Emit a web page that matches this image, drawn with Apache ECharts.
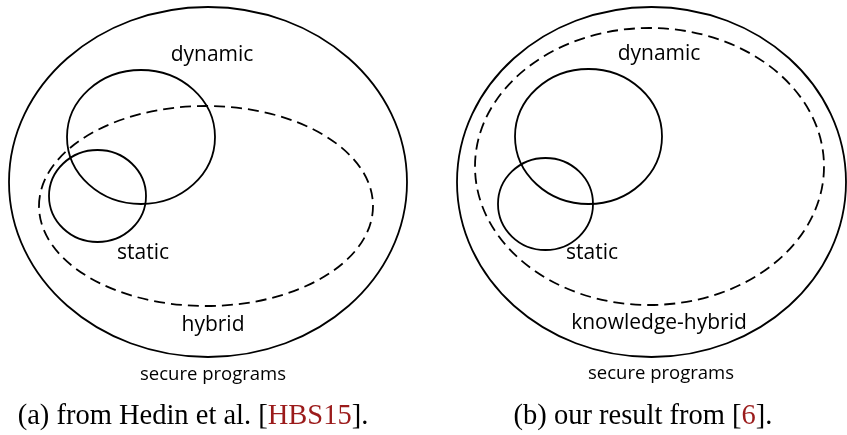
<!DOCTYPE html>
<html>
<head>
<meta charset="utf-8">
<script src="https://cdn.jsdelivr.net/npm/echarts@6/dist/echarts.min.js"></script>
<style>
  html, body { margin: 0; padding: 0; background: #fff; }
  #chart { width: 847px; height: 435px; }
</style>
</head>
<body>
<div id="chart"></div>
<script>
// ellipses: centre x, centre y, radius x, radius y (in picture units), dashed?
var ellipseCx = [208, 141, 97.5, 206, 651.5, 588.5, 545.5, 649.5];
var ellipseCy = [182, 137, 196, 206, 182, 136.5, 204, 166.5];
var ellipseRx = [199, 74, 48.5, 167, 194.5, 73.5, 47.5, 174.5];
var ellipseRy = [175, 67, 46, 100, 175, 67.5, 46, 138.5];
var ellipseDashed = [false, false, false, true, false, false, false, true];

// set labels
var labelText = ['dynamic', 'static', 'hybrid', 'secure programs',
                 'dynamic', 'static', 'knowledge-hybrid', 'secure programs'];
var labelX = [212, 143, 213, 213, 659, 592, 659, 661];
var labelY = [55, 253, 325, 375, 54, 253, 323, 374];
var labelSize = [21, 21, 21, 18.5, 21, 21, 21, 18.5];

// sub-figure captions
var captionText = [
  '{n|(a) from Hedin et al. [}{r|HBS15}{n|].}',
  '{n|(b) our result from [}{r|6}{n|].}'
];
var captionX = [193, 643];
var captionY = [417, 417];

var chart = echarts.init(document.getElementById('chart'));

var ellipseData = ellipseCx.map(function (cx, i) {
  return [cx, ellipseCy[i], ellipseRx[i], ellipseRy[i], ellipseDashed[i] ? 1 : 0];
});
var labelData = labelText.map(function (t, i) {
  return [labelX[i], labelY[i], labelSize[i], t];
});
var captionData = captionText.map(function (t, i) {
  return [captionX[i], captionY[i], t];
});

var option = {
  animation: false,
  grid: { left: 0, right: 0, top: 0, bottom: 0 },
  xAxis: { type: 'value', min: 0, max: 847, show: false },
  yAxis: { type: 'value', min: 0, max: 435, inverse: true, show: false },
  series: [
    {
      type: 'custom',
      data: ellipseData,
      clip: false,
      renderItem: function (params, api) {
        var c = api.coord([api.value(0), api.value(1)]);
        var s = api.size([api.value(2), api.value(3)]);
        return {
          type: 'ellipse',
          shape: { cx: c[0], cy: c[1], rx: s[0], ry: s[1] },
          style: {
            fill: null,
            stroke: '#000',
            lineWidth: 1.8,
            lineDash: api.value(4) ? [11, 6] : null
          }
        };
      }
    },
    {
      type: 'custom',
      data: labelData,
      clip: false,
      renderItem: function (params, api) {
        var c = api.coord([api.value(0), api.value(1)]);
        return {
          type: 'text',
          x: c[0],
          y: c[1],
          style: {
            text: labelText[params.dataIndex],
            fontFamily: 'Open Sans',
            fontSize: api.value(2),
            fill: '#000',
            align: 'center',
            verticalAlign: 'middle'
          }
        };
      }
    },
    {
      type: 'custom',
      data: captionData,
      clip: false,
      renderItem: function (params, api) {
        var c = api.coord([api.value(0), api.value(1)]);
        return {
          type: 'text',
          x: c[0],
          y: c[1],
          style: {
            text: captionText[params.dataIndex],
            align: 'center',
            verticalAlign: 'middle',
            rich: {
              n: { fontFamily: 'Liberation Serif', fontSize: 28.5, fill: '#000' },
              r: { fontFamily: 'Liberation Serif', fontSize: 28.5, fill: '#9b1b1b' }
            }
          }
        };
      }
    }
  ]
};

chart.setOption(option);
</script>
</body>
</html>
